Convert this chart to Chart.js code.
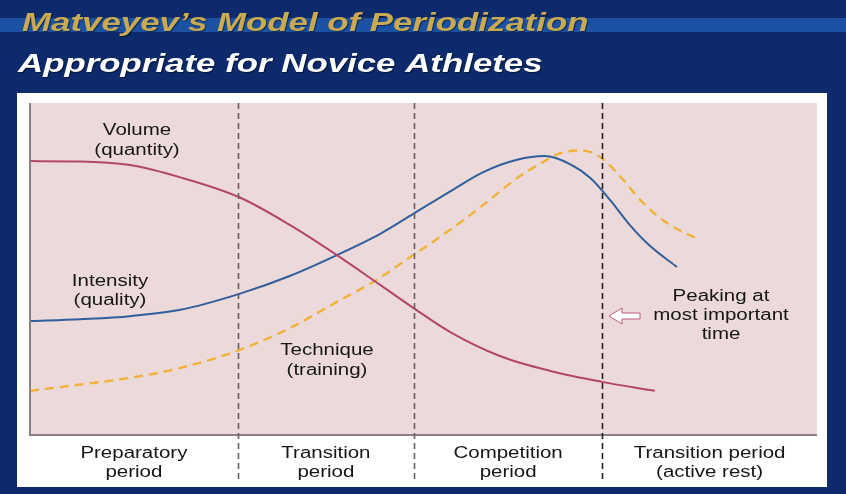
<!DOCTYPE html>
<html>
<head>
<meta charset="utf-8">
<script src="https://cdn.jsdelivr.net/npm/chart.js@4.4.1/dist/chart.umd.min.js"></script>
<style>
  html, body { margin: 0; padding: 0; background: #0c2a6c; }
  #wrap { width: 846px; height: 494px; }
</style>
</head>
<body>
<div id="wrap"><canvas id="c" width="846" height="494"></canvas></div>
<script>
// ---- Data ----
const titleText = "Matveyev\u2019s Model of Periodization";
const subtitleText = "Appropriate for Novice Athletes";

const periodLabels = [
  ["Preparatory", "period"],
  ["Transition", "period"],
  ["Competition", "period"],
  ["Transition period", "(active rest)"]
];
const periodBoundaries = [26.4, 48.8, 72.7];

const seriesNames = ["Volume", "Intensity", "Technique"];
const volumeLabel = ["Volume", "(quantity)"];
const intensityLabel = ["Intensity", "(quality)"];
const techniqueLabel = ["Technique", "(training)"];
const peakingLabel = ["Peaking at", "most important", "time"];

const volumeTime  = [0, 6.4, 12.7, 19.1, 26.6, 33.0, 39.0, 44.5, 48.7, 53.4, 59.7, 66.1, 72.7, 79.4];
const volumeLevel = [82.5, 82.4, 81.3, 77.6, 71.6, 63.3, 54.2, 45.2, 38.3, 31.0, 23.8, 19.3, 16.0, 13.3];

const intensityTime  = [0, 6.4, 12.7, 19.1, 26.6, 33.0, 39.0, 44.5, 48.7, 53.4, 57.6, 61.9, 65.4, 68.6, 71.2, 73.7, 76.2, 78.8, 82.2];
const intensityLevel = [34.3, 34.9, 35.8, 37.7, 42.5, 47.9, 54.2, 60.6, 66.6, 73.4, 79.2, 82.9, 84.0, 81.6, 77.4, 70.8, 63.3, 56.9, 50.6];

const techniqueTime  = [0, 6.4, 12.7, 19.1, 26.6, 33.0, 39.0, 43.6, 48.7, 53.4, 57.6, 61.9, 66.1, 67.3, 69.6, 71.4, 73.1, 75.4, 77.9, 80.9, 85.1];
const techniqueLevel = [13.3, 15.2, 17.2, 20.2, 25.6, 32.2, 40.1, 46.1, 54.2, 61.8, 69.3, 77.4, 83.4, 84.8, 85.7, 85.1, 82.5, 76.8, 69.9, 63.9, 58.7];

// ---- helpers ----
function pts(xs, ys) { return xs.map((x, i) => ({ x: x, y: ys[i] })); }
function stretchedText(ctx, text, x, y, font, color, align, sx) {
  ctx.save();
  ctx.translate(x, y);
  ctx.scale(sx, 1);
  ctx.font = font;
  ctx.fillStyle = color;
  ctx.textAlign = align || 'center';
  ctx.textBaseline = 'alphabetic';
  ctx.fillText(text, 0, 0);
  ctx.restore();
}
const LABEL_FONT = "16px 'Liberation Sans', Arial, sans-serif";
const LABEL_SX = 1.28;
const TITLE_FONT = "italic bold 26px 'Liberation Sans', Arial, sans-serif";
const TITLE_SX = 1.34;
const TEXT_COL = "#161616";
function label(ctx, t, x, y, align) { stretchedText(ctx, t, x, y, LABEL_FONT, TEXT_COL, align || 'center', LABEL_SX); }

const decor = {
  id: 'decor',
  beforeDraw(chart) {
    const ctx = chart.ctx;
    const a = chart.chartArea;
    ctx.save();
    ctx.fillStyle = '#0c2a6c';
    ctx.fillRect(0, 0, chart.width, chart.height);
    ctx.fillStyle = '#1b52a3';
    ctx.fillRect(0, 18, chart.width, 14);
    ctx.shadowColor = 'rgba(0,0,0,0.5)';
    ctx.shadowOffsetX = 1; ctx.shadowOffsetY = 1; ctx.shadowBlur = 1;
    stretchedText(ctx, titleText, 22, 31, TITLE_FONT, '#c9aa52', 'left', TITLE_SX);
    stretchedText(ctx, subtitleText, 18, 72, TITLE_FONT, '#ffffff', 'left', TITLE_SX);
    ctx.shadowColor = 'transparent';
    ctx.fillStyle = '#ffffff';
    ctx.fillRect(17, 93, 810, 394);
    ctx.fillStyle = '#ecdada';
    ctx.fillRect(a.left, a.top, a.right - a.left, a.bottom - a.top);
    ctx.restore();
  },
  afterDatasetsDraw(chart) {
    const ctx = chart.ctx;
    const a = chart.chartArea;
    const xs = chart.scales.x;
    ctx.save();
    ctx.strokeStyle = '#8a8282';
    ctx.lineWidth = 2;
    ctx.beginPath();
    ctx.moveTo(a.left, a.top);
    ctx.lineTo(a.left, a.bottom);
    ctx.lineTo(a.right, a.bottom);
    ctx.stroke();
    ctx.lineWidth = 1.6;
    ctx.setLineDash([6, 4]);
    periodBoundaries.forEach((v, i) => {
      const px = Math.round(xs.getPixelForValue(v)) + 0.5;
      ctx.strokeStyle = i === 2 ? '#222222' : '#666060';
      ctx.beginPath();
      ctx.moveTo(px, a.top);
      ctx.lineTo(px, 483);
      ctx.stroke();
    });
    ctx.setLineDash([]);
    const edges = [xs.min].concat(periodBoundaries, [xs.max]);
    periodLabels.forEach((lines, i) => {
      const cx = (xs.getPixelForValue(edges[i]) + xs.getPixelForValue(edges[i + 1])) / 2;
      lines.forEach((t, j) => label(ctx, t, cx, 458 + j * 19));
    });
    volumeLabel.forEach((t, j) => label(ctx, t, 137, 135 + j * 20));
    intensityLabel.forEach((t, j) => label(ctx, t, 110, 286 + j * 19));
    techniqueLabel.forEach((t, j) => label(ctx, t, 327, 355 + j * 20));
    peakingLabel.forEach((t, j) => label(ctx, t, 721, 301 + j * 19));
    // arrow pointing to the peaking boundary
    ctx.beginPath();
    ctx.moveTo(609, 316);
    ctx.lineTo(622, 308);
    ctx.lineTo(622, 313);
    ctx.lineTo(640, 313);
    ctx.lineTo(640, 319);
    ctx.lineTo(622, 319);
    ctx.lineTo(622, 324);
    ctx.closePath();
    ctx.fillStyle = '#ffffff';
    ctx.fill();
    ctx.strokeStyle = '#c45a80';
    ctx.lineWidth = 1;
    ctx.stroke();
    ctx.restore();
  }
};

const lineCommon = { pointRadius: 0, borderWidth: 2, cubicInterpolationMode: 'monotone', fill: false };

new Chart(document.getElementById('c'), {
  type: 'line',
  data: {
    datasets: [
      Object.assign({ label: seriesNames[0], data: pts(volumeTime, volumeLevel), borderColor: '#b3456a' }, lineCommon),
      Object.assign({ label: seriesNames[1], data: pts(intensityTime, intensityLevel), borderColor: '#2f5f9c' }, lineCommon),
      Object.assign({ label: seriesNames[2], data: pts(techniqueTime, techniqueLevel), borderColor: '#f2b23a', borderDash: [9, 6] }, lineCommon, { borderWidth: 2.4 })
    ]
  },
  options: {
    responsive: false,
    animation: false,
    events: [],
    layout: { padding: { left: 30, right: 29, top: 103, bottom: 59 } },
    scales: {
      x: { type: 'linear', min: 0, max: 100, display: false },
      y: { type: 'linear', min: 0, max: 100, display: false }
    },
    plugins: { legend: { display: false }, tooltip: { enabled: false }, title: { display: false } }
  },
  plugins: [decor]
});
</script>
</body>
</html>
